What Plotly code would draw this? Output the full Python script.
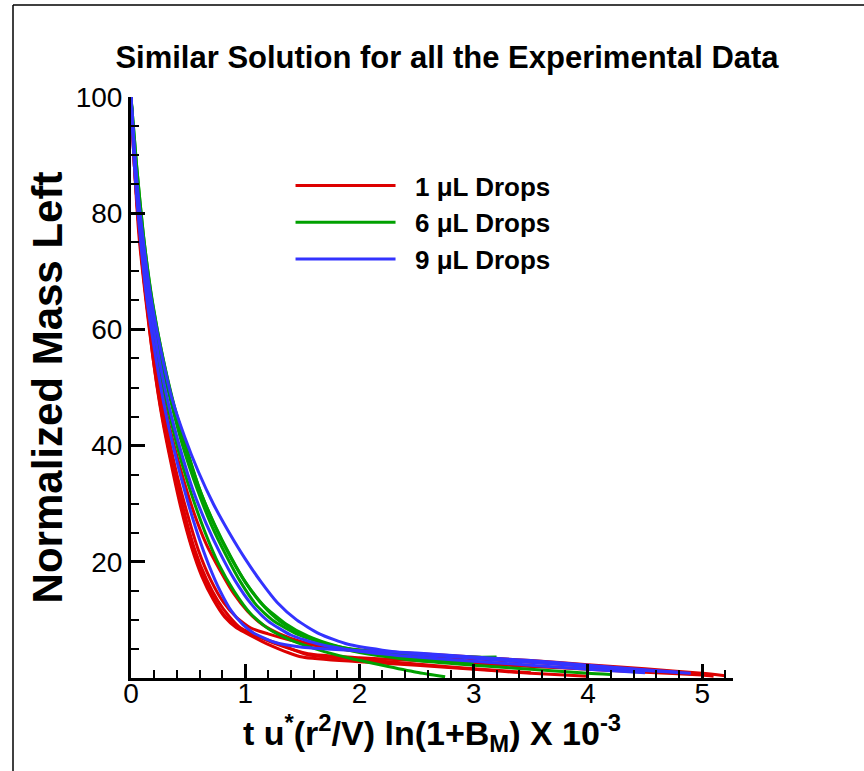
import plotly.graph_objects as go

# ---------------- data ----------------
red_curves = [
    ([0,0.03,0.08,0.14,0.20,0.27,0.35,0.44,0.53,0.62,0.72,0.82,0.92,1.0,1.2,1.5,2.0,2.5,3.0,3.5,4.0],
     [100,88,75,64,54,45,37,29,22.5,17.5,13.5,10.5,8.7,7.8,5.8,3.6,2.8,2.2,1.5,0.8,0.3]),
    ([0,0.03,0.08,0.14,0.21,0.28,0.37,0.46,0.56,0.66,0.76,0.86,0.96,1.04,1.25,1.55,2.0,2.5,3.0,3.5,4.0,4.5,5.0,5.1],
     [100,88,75,64,54,45.5,36.5,29,22,17,13.3,10.6,8.6,7.8,6,4.2,3.5,3.0,2.5,2.0,1.5,1.0,0.5,0.3]),
    ([0,0.04,0.09,0.15,0.22,0.30,0.39,0.49,0.59,0.70,0.81,0.92,1.05,1.2,1.4,1.65,2.0,2.5,3.0,3.5,4.0,4.5,5.0,5.2],
     [100,87,75,64,54,44.5,36,28.5,22,16.8,13,10.5,8.6,7.6,6.5,5.5,4.8,4.2,3.6,3.0,2.3,1.6,0.8,0.4]),
    ([0,0.04,0.10,0.17,0.25,0.34,0.44,0.55,0.66,0.78,0.90,1.02,1.15,1.3,1.5,1.75,2.0,2.5,3.0,3.5,4.0,4.5,5.0],
     [100,87,74,62,52,43,35.5,28.5,23,18.5,14.5,11.5,9.2,7.6,6.2,5.2,4.6,3.9,3.3,2.7,2.0,1.3,0.6]),
    ([0,0.03,0.07,0.13,0.19,0.26,0.34,0.43,0.52,0.61,0.71,0.81,0.91,0.98,1.1,1.3,1.55,2.0,2.5,3.0,3.5],
     [100,88,76,65,55.5,46.5,38.5,30.5,23.5,18.5,14.2,11,9.1,8.2,7.2,5.8,4.0,3.2,2.4,1.6,0.9]),
]
green_curves = [
    ([0,0.04,0.09,0.16,0.24,0.33,0.43,0.54,0.65,0.77,0.9,1.05,1.2,1.4,1.65,1.9,2.2,2.5,2.75],
     [100,88,76,65,55,46,38,31,25,19.5,15,11,8.5,6.5,4.8,3.5,2.2,1.0,0.2]),
    ([0,0.04,0.10,0.17,0.25,0.35,0.46,0.58,0.70,0.83,0.96,1.1,1.25,1.45,1.7,2.0,2.5,3.0,3.2],
     [100,88,76,65.5,56,47.5,39.5,32.5,26.5,21.2,16.5,12.5,9.8,7.6,5.9,4.8,4.1,3.6,3.6]),
    ([0,0.05,0.11,0.18,0.27,0.37,0.48,0.60,0.73,0.87,1.0,1.15,1.3,1.5,1.75,2.0,2.5,3.0,3.5,4.0,4.2],
     [100,88,76,65.5,56,47.5,40,32.5,26.5,21,16.5,12.6,9.8,7.4,5.6,4.4,3.0,2.2,1.5,0.8,0.6]),
    ([0,0.05,0.11,0.19,0.28,0.38,0.49,0.62,0.75,0.88,1.02,1.17,1.35,1.55,1.8,2.1,2.5,3.0],
     [100,88,76,64.5,55,46.5,39,31.5,25.5,20.5,16,12.3,9.4,7.2,5.5,4.3,3.3,2.5]),
]
blue_curves = [
    ([0,0.04,0.10,0.17,0.26,0.36,0.47,0.59,0.72,0.86,1.0,1.14,1.28,1.45,1.65,1.9,2.2,2.5,3.0,3.5,4.0,4.5,4.9],
     [100,88,76.5,66,56.5,48,41.5,35.5,30,25,20.5,16.5,13,10,7.6,5.8,4.8,4.1,3.4,2.7,2.0,1.3,0.8]),
    ([0,0.03,0.08,0.14,0.21,0.29,0.38,0.48,0.58,0.68,0.78,0.88,0.98,1.07,1.25,1.5,2.0,2.5,3.0,3.5,4.0,4.5,4.8],
     [100,88,76,65,56,47,39,31.5,25,19.5,15,11.5,9.2,7.8,6.2,5.3,4.7,4.3,3.6,3.0,2.2,1.4,1.0]),
    ([0,0.04,0.09,0.16,0.24,0.33,0.43,0.54,0.66,0.78,0.91,1.05,1.2,1.4,1.65,2.0,2.5,3.0,3.5,4.0,4.5],
     [100,88,76,65,55.5,47,39.5,32.5,26.5,21.5,16.8,12.8,9.8,7.4,5.8,4.6,3.6,2.9,2.2,1.5,0.9]),
]
series_names = ["  1 μL Drops", "  6 μL Drops", "  9 μL Drops"]
series_colors = ["#dd0000", "#00a000", "#3333ff"]
y_tick_vals = [0, 20, 40, 60, 80, 100]
y_tick_text = ["", "20", "40", "60", "80", "100"]
x_tick_vals = [0, 1, 2, 3, 4, 5]

# ---------------- figure ----------------
fig = go.Figure()
for curves, name, color in zip([red_curves, green_curves, blue_curves], series_names, series_colors):
    for i, (xs, ys) in enumerate(curves):
        fig.add_trace(go.Scatter(
            x=xs, y=ys, mode="lines", name=name, legendgroup=name,
            showlegend=(i == 0),
            line=dict(color=color, width=3, shape="spline", smoothing=0.6),
        ))

FONT = "Liberation Sans, Arial, sans-serif"
fig.update_layout(
    width=864, height=771,
    margin=dict(l=131, r=131, t=97, b=93),
    paper_bgcolor="white", plot_bgcolor="white",
    title=dict(text="<b>Similar Solution for all the Experimental Data</b>",
               x=447 / 864, xanchor="center", xref="container",
               y=1 - 57 / 771, yanchor="middle", yref="container",
               font=dict(family=FONT, size=31, color="black")),
    showlegend=True,
    legend=dict(x=0.265, y=0.888, xanchor="left", yanchor="top",
                bgcolor="rgba(0,0,0,0)", itemwidth=100,
                font=dict(family=FONT, size=26, color="black", weight="bold"),
                tracegroupgap=0),
    font=dict(family=FONT, color="black"),
)
fig.update_xaxes(
    range=[0, 5.27], showline=True, linecolor="black", linewidth=3,
    showgrid=False, zeroline=False,
    tickmode="array", tickvals=x_tick_vals,
    ticks="inside", ticklen=14, tickwidth=3, tickcolor="black",
    tickfont=dict(family=FONT, size=28, color="black"),
    ticklabelstandoff=-12,
    minor=dict(ticks="inside", ticklen=8, tickwidth=1.5, tickcolor="black", dtick=0.2, tick0=0, showgrid=False),
    title=dict(text="<b>t u<sup>*</sup>(r<sup>2</sup>/V) ln(1+B<sub>M</sub>) X 10<sup>-3</sup></b>",
               font=dict(family=FONT, size=34, color="black"), standoff=6),
)
fig.update_yaxes(
    range=[0, 100], showline=True, linecolor="black", linewidth=3,
    showgrid=False, zeroline=False,
    tickmode="array", tickvals=y_tick_vals, ticktext=y_tick_text,
    ticks="inside", ticklen=14, tickwidth=3, tickcolor="black",
    tickfont=dict(family=FONT, size=28, color="black"),
    minor=dict(ticks="inside", ticklen=8, tickwidth=1.5, tickcolor="black", dtick=5, tick0=0, showgrid=False),
    title=dict(text="<b>Normalized Mass Left</b>",
               font=dict(family=FONT, size=42, color="black"), standoff=0),
)
# thin frame at top and left of the picture
fig.add_shape(type="line", xref="paper", yref="paper",
              x0=(13 - 131) / 602, x1=(864 - 131) / 602, y0=(678 - 5) / 581, y1=(678 - 5) / 581,
              line=dict(color="black", width=1.5))
fig.add_shape(type="line", xref="paper", yref="paper",
              x0=(13 - 131) / 602, x1=(13 - 131) / 602, y0=(678 - 5) / 581, y1=(678 - 771) / 581,
              line=dict(color="black", width=1.5))

fig.write_html("out.html")
